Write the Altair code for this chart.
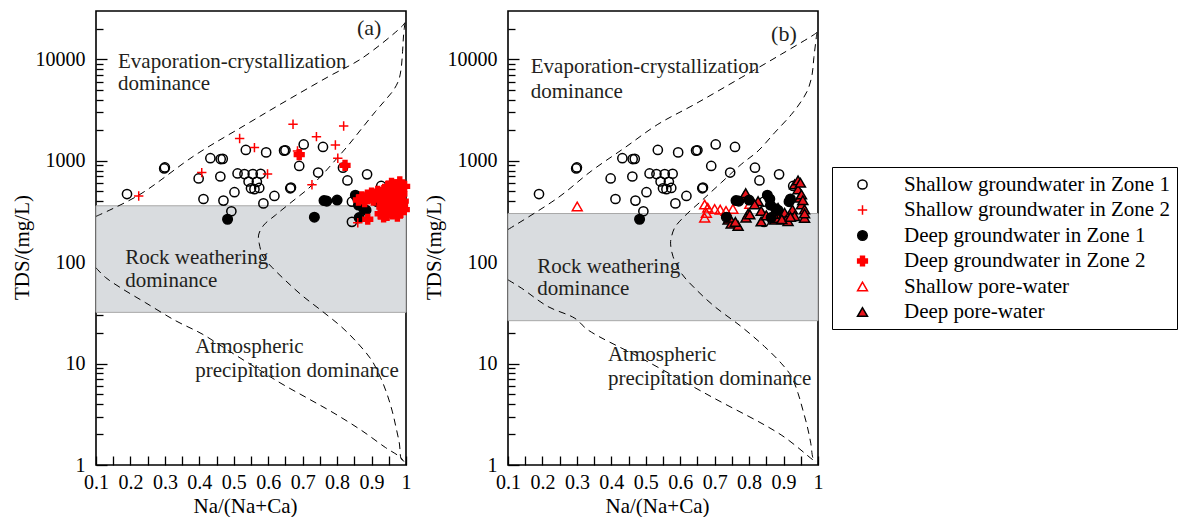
import json
import altair as alt
import pandas as pd

FONT = "Liberation Serif"
TXT = "#231f20"

# ---------------- series definitions ----------------
SERIES = ["Shallow groundwater in Zone 1", "Shallow groundwater in Zone 2",
          "Deep groundwater in Zone 1", "Deep groundwater in Zone 2",
          "Shallow pore-water", "Deep pore-water"]
PLUS = "M-1,0L1,0M0,-1L0,1"
SHAPES = ["circle", PLUS, "circle", "cross", "triangle-up", "triangle-up"]
FILLS = ["transparent", "transparent", "black", "#ff0000", "transparent", "#e8141c"]
STROKES = ["black", "#ff0000", "black", "#ff0000", "#ff0000", "black"]
SIZES = [85, 100, 85, 105, 115, 125]

# ---------------- data (shared by both panels) ----------------
sz1_x = [0.19, 0.298, 0.300, 0.432, 0.462, 0.468, 0.398, 0.461, 0.412, 0.470, 0.493, 0.502,
         0.535, 0.594, 0.511, 0.531, 0.555, 0.578, 0.543, 0.567, 0.550, 0.560, 0.574, 0.586,
         0.618, 0.646, 0.650, 0.664, 0.666, 0.703, 0.690, 0.745, 0.759, 0.817, 0.830, 0.887,
         0.843, 0.928, 0.843]
sz1_y = [470, 840, 860, 1060, 1040, 1045, 670, 700, 420, 405, 318, 490,
         1280, 1210, 750, 740, 740, 745, 625, 620, 535, 525, 540, 380,
         450, 1260, 1270, 535, 545, 1450, 890, 765, 1370, 855, 640, 735,
         395, 565, 250]

dz1_x = [0.482, 0.734, 0.762, 0.770, 0.800, 0.853, 0.860, 0.862, 0.877, 0.864, 0.884, 0.916, 0.920]
dz1_y = [265, 278, 405, 400, 410, 458, 420, 366, 337, 275, 326, 395, 420]

# panel (a) only
sz2_x = [0.224, 0.407, 0.517, 0.560, 0.598, 0.672, 0.685, 0.740, 0.819, 0.795, 0.802, 0.727,
         0.860, 0.870, 0.900, 0.930, 0.960, 0.985]
sz2_y = [450, 765, 1660, 1350, 740, 2290, 1250, 1730, 2200, 1430, 1060, 580,
         245, 430, 470, 520, 560, 600]

dz2_x = [0.690, 0.823, 0.889,
         0.862, 0.872, 0.880, 0.888, 0.895, 0.900, 0.905, 0.912, 0.918, 0.922, 0.928, 0.933,
         0.938, 0.942, 0.947, 0.950, 0.955, 0.958, 0.962, 0.965, 0.968, 0.972, 0.975, 0.978,
         0.982, 0.985, 0.988, 0.992, 0.996,
         0.930, 0.940, 0.945, 0.950, 0.955, 0.960, 0.965, 0.970, 0.975, 0.980, 0.985, 0.990,
         0.995, 0.925, 0.935]
dz2_y = [1150, 900, 265,
         410, 440, 395, 460, 430, 480, 410, 450, 500, 420, 470, 390,
         520, 445, 560, 480, 410, 600, 520, 450, 390, 580, 500, 430,
         620, 540, 470, 400, 560,
         350, 320, 290, 360, 330, 300, 355, 320, 285, 340, 310, 360,
         330, 300, 280]

# panel (b) only
spw_x = [0.301, 0.671, 0.676, 0.671, 0.700, 0.733, 0.753, 0.802, 0.716, 0.680]
spw_y = [355, 370, 305, 275, 335, 320, 335, 375, 330, 345]

dpw_x = [0.739, 0.748, 0.768, 0.743, 0.787, 0.790, 0.797, 0.791, 0.802, 0.826, 0.816, 0.835,
         0.835, 0.874, 0.884, 0.884, 0.903, 0.908, 0.913, 0.926, 0.932, 0.932, 0.942, 0.942,
         0.947, 0.949, 0.952, 0.952, 0.956, 0.961, 0.961, 0.961, 0.760, 0.850, 0.870, 0.895,
         0.920]
dpw_y = [262, 240, 228, 275, 455, 480, 300, 275, 296, 400, 372, 320,
         252, 262, 343, 274, 307, 262, 254, 331, 285, 585, 523, 641,
         432, 607, 372, 465, 408, 331, 274, 302, 250, 290, 300, 265,
         280]

# ---------------- boundary curves ----------------
A_UP_X = [0.100, 0.224, 0.388, 0.533, 0.640, 0.775, 0.872, 0.988, 0.997]
A_UP_Y = [283, 458, 1138, 2250, 3690, 6760, 10250, 21100, 23000]
A_RT_X = [0.997, 0.993, 0.990, 0.986, 0.979, 0.964, 0.940, 0.911, 0.872, 0.833, 0.795, 0.756,
          0.717, 0.669, 0.621, 0.587, 0.572, 0.574, 0.586, 0.611, 0.650, 0.698, 0.756, 0.814,
          0.862, 0.901, 0.926, 0.945, 0.960, 0.971, 0.981, 0.986, 0.994]
A_RT_Y = [23000, 17400, 11900, 8170, 6270, 4990, 3970, 3050, 2090, 1430, 1016, 722,
          534, 395, 291, 232, 185, 152, 112, 89, 66, 47, 33, 22.8,
          15.6, 10.7, 7.3, 5.0, 3.4, 2.35, 1.61, 1.15, 1.08]
A_LO_X = [0.100, 0.127, 0.175, 0.243, 0.330, 0.408, 0.485, 0.562, 0.640, 0.717, 0.794,
          0.872, 0.940, 0.984, 0.994]
A_LO_Y = [88, 71, 55, 40, 26.6, 19.6, 13.4, 9.2, 6.3, 4.5, 3.2,
          2.18, 1.49, 1.19, 1.08]

B_UP_X = [0.100, 0.245, 0.342, 0.439, 0.535, 0.642, 0.777, 0.893, 0.990, 0.997]
B_UP_Y = [210, 432, 793, 1346, 2287, 3606, 6610, 11220, 17700, 18500]
B_RT_X = [0.997, 0.988, 0.983, 0.971, 0.952, 0.923, 0.874, 0.826, 0.777, 0.719, 0.661, 0.613,
          0.584, 0.574, 0.572, 0.579, 0.603, 0.642, 0.700, 0.777, 0.845, 0.893, 0.923, 0.942,
          0.956, 0.969, 0.979, 0.986, 0.994]
B_RT_Y = [18500, 10420, 7130, 5070, 3890, 2870, 1890, 1250, 922, 608, 401, 285,
          219, 174, 154, 114, 78, 55.5, 36.5, 23.2, 14.7, 10.1, 7.45, 5.1,
          3.49, 2.39, 1.64, 1.16, 1.08]
B_LO_X = [0.100, 0.139, 0.216, 0.294, 0.332, 0.487, 0.690, 0.893, 0.986, 0.994]
B_LO_Y = [67, 55.5, 36.5, 28, 21.5, 11.3, 4.72, 1.98, 1.12, 1.08]

# ---------------- bands & annotations ----------------
BAND_A = [32, 360]
BAND_B = [26.5, 302]

TEXT_LINES = ["Evaporation-crystallization", "dominance", "Rock weathering", "dominance",
              "Atmospheric", "precipitation dominance"]
TEXT_A_X = [0.164, 0.164, 0.185, 0.185, 0.388, 0.388]
TEXT_A_Y = [8300, 4990, 96.4, 56.7, 12.6, 7.32]
TEXT_B_X = [0.166, 0.166, 0.185, 0.185, 0.390, 0.390]
TEXT_B_Y = [7410, 4200, 79.1, 47.7, 10.6, 6.16]
TAG_A = ("(a)", 0.893, 17400)
TAG_B = ("(b)", 0.901, 15300)

# ---------------- axes ticks ----------------
X_LABELS = [0.1, 0.2, 0.3, 0.4, 0.5, 0.6, 0.7, 0.8, 0.9, 1.0]
X_TICKS = [0.1, 0.15, 0.2, 0.25, 0.3, 0.35, 0.4, 0.45, 0.5, 0.55, 0.6, 0.65, 0.7, 0.75,
           0.8, 0.85, 0.9, 0.95, 1.0]
Y_LABELS = [1, 10, 100, 1000, 10000]
Y_MINOR = [2, 3, 4, 5, 6, 7, 8, 9, 20, 30, 40, 50, 60, 70, 80, 90,
           200, 300, 400, 500, 600, 700, 800, 900,
           2000, 3000, 4000, 5000, 6000, 7000, 8000, 9000, 20000]

W, H = 310, 454

Y_ALL = sorted(Y_LABELS + Y_MINOR)
Y_IS_MAJOR = f"indexof({json.dumps(Y_LABELS)}, datum.value) >= 0"
X_IS_LABEL = f"indexof({json.dumps(X_LABELS)}, datum.value) >= 0"


def pts_df(groups):
    rows = []
    for name, xs, ys in groups:
        for x, y in zip(xs, ys):
            rows.append({"x": x, "y": y, "series": name, "idx": len(rows)})
    return pd.DataFrame(rows)


def curves_df(curves):
    rows = []
    for cid, (xs, ys) in enumerate(curves):
        for i, (x, y) in enumerate(zip(xs, ys)):
            rows.append({"x": x, "y": y, "cid": cid, "i": i})
    return pd.DataFrame(rows)


legend = alt.Legend(
    title=None, orient="none", legendX=736, legendY=156, direction="vertical",
    labelFont=FONT, labelFontSize=21, labelColor="black", labelLimit=0,
    rowPadding=3.5, strokeColor="black", padding=7, symbolOffset=13, labelOffset=31,
    symbolStrokeWidth=1.5, fillColor="white",
)

# inward ticks: negative tick length given as an expression
X_AXIS = alt.Axis(values=X_TICKS, format="~g", labelExpr=f"{X_IS_LABEL} ? datum.label : ''",
                  ticks=True, tickSize={"expr": "-9"}, tickColor="black", tickWidth=1.3,
                  domain=False, grid=False, labelOverlap=False, labelFlush=False,
                  labelFont=FONT, labelFontSize=20, labelColor="black", labelPadding=16,
                  title="Na/(Na+Ca)", titleFont=FONT, titleFontSize=21,
                  titleFontWeight="normal", titleColor="black", titlePadding=3, titleX=149)
Y_AXIS = alt.Axis(values=Y_ALL, format="d", labelExpr=f"{Y_IS_MAJOR} ? datum.label : ''",
                  ticks=True, tickSize={"expr": f"{Y_IS_MAJOR} ? -11 : -7"},
                  tickColor="black", tickWidth=1.3,
                  domain=False, grid=False, labelOverlap=False, labelFlush=False,
                  labelFont=FONT, labelFontSize=20, labelColor="black", labelPadding=22,
                  title="TDS/(mg/L)", titleFont=FONT, titleFontSize=21,
                  titleFontWeight="normal", titleColor="black", titlePadding=3, titleY=236)


def panel(points, curves, band, texts_x, texts_y, tag):
    xs = alt.Scale(domain=[0.1, 1.0], nice=False, zero=False)
    ys = alt.Scale(type="log", domain=[1, 30000], nice=False)

    def X(f):
        return alt.X(f, scale=xs, axis=X_AXIS)

    def Y(f):
        return alt.Y(f, scale=ys, axis=Y_AXIS)

    band_df = pd.DataFrame({"x0": [0.1], "x1": [1.0], "lo": [band[0]], "hi": [band[1]]})
    band_l = alt.Chart(band_df).mark_rect(fill="#d9dcdf", stroke="#a8a8a8", strokeWidth=1).encode(
        x=X("x0:Q"), x2="x1:Q", y=Y("lo:Q"), y2="hi:Q")

    curve_l = alt.Chart(curves_df(curves)).mark_line(
        color="black", strokeWidth=1, strokeDash=[7, 5], interpolate="catmull-rom").encode(
        x=X("x:Q"), y=Y("y:Q"), detail="cid:N", order="i:Q")

    txt_df = pd.DataFrame({"x": texts_x, "y": texts_y, "t": TEXT_LINES})
    txt_l = alt.Chart(txt_df).mark_text(align="left", baseline="alphabetic", font=FONT,
                                         fontSize=21, color=TXT).encode(
        x=X("x:Q"), y=Y("y:Q"), text="t:N")
    tag_df = pd.DataFrame({"x": [tag[1]], "y": [tag[2]], "t": [tag[0]]})
    tag_l = alt.Chart(tag_df).mark_text(align="center", baseline="alphabetic", font=FONT,
                                         fontSize=22, color=TXT).encode(
        x=X("x:Q"), y=Y("y:Q"), text="t:N")

    pt_l = alt.Chart(points).mark_point(opacity=1, strokeWidth=1.5).encode(
        x=X("x:Q"), y=Y("y:Q"),
        shape=alt.Shape("series:N", scale=alt.Scale(domain=SERIES, range=SHAPES), legend=legend),
        fill=alt.Fill("series:N", scale=alt.Scale(domain=SERIES, range=FILLS), legend=legend),
        stroke=alt.Stroke("series:N", scale=alt.Scale(domain=SERIES, range=STROKES), legend=legend),
        size=alt.Size("series:N", scale=alt.Scale(domain=SERIES, range=SIZES), legend=legend),
        order=alt.Order("idx:Q"),
    )
    return alt.layer(band_l, curve_l, txt_l, tag_l, pt_l).properties(width=W, height=H)


pa = pts_df([(SERIES[0], sz1_x, sz1_y), (SERIES[2], dz1_x, dz1_y),
             (SERIES[1], sz2_x, sz2_y), (SERIES[3], dz2_x, dz2_y)])
pb = pts_df([(SERIES[0], sz1_x, sz1_y), (SERIES[4], spw_x, spw_y),
             (SERIES[5], dpw_x, dpw_y), (SERIES[2], dz1_x, dz1_y)])

chart_a = panel(pa, [(A_UP_X, A_UP_Y), (A_RT_X, A_RT_Y), (A_LO_X, A_LO_Y)], BAND_A,
                TEXT_A_X, TEXT_A_Y, TAG_A)
chart_b = panel(pb, [(B_UP_X, B_UP_Y), (B_RT_X, B_RT_Y), (B_LO_X, B_LO_Y)], BAND_B,
                TEXT_B_X, TEXT_B_Y, TAG_B)

chart = alt.hconcat(chart_a, chart_b, spacing=8).properties(
    padding={"left": 10, "top": 10, "right": 0, "bottom": 0}, background="white"
).configure_view(stroke="black", strokeWidth=1.6)

chart.save("out.html", embed_options={"renderer": "svg", "actions": False})
